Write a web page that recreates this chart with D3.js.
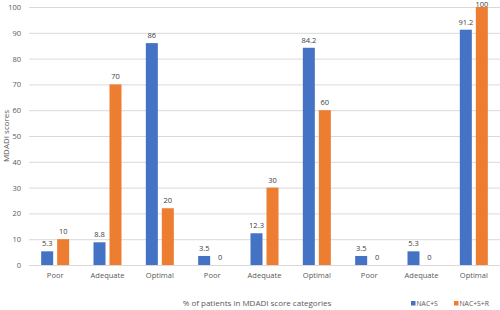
<!DOCTYPE html>
<html><head><meta charset="utf-8">
<script src="https://cdn.jsdelivr.net/npm/d3@7"></script>
<style>body{margin:0;background:#fff;} text{font-family:"Open Sans",sans-serif;fill:#595959;}</style>
</head><body>
<svg id="c" width="500" height="310"></svg>
<script>
const categories = ["Poor","Adequate","Optimal","Poor","Adequate","Optimal","Poor","Adequate","Optimal"];
const seriesNames = ["NAC+S","NAC+S+R"];
const valuesS = [5.3, 8.8, 86, 3.5, 12.3, 84.2, 3.5, 5.3, 91.2];
const valuesR = [10, 70, 22, 0, 30, 60, 0, 0, 100];
const labelsS = ["5.3","8.8","86","3.5","12.3","84.2","3.5","5.3","91.2"];
const labelsR = ["10","70","20","0","30","60","0","0","100"];
const yTicks = [0,10,20,30,40,50,60,70,80,90,100];
const colors = ["#4472C4","#ED7D31"];

const svg = d3.select("#c");
const mLeft = 29, mRight = 500, mTop = 7, mBottom = 265;
const x = d3.scaleBand().domain(d3.range(categories.length)).range([mLeft, mRight]).paddingInner(0).paddingOuter(0);
const y = d3.scaleLinear().domain([0,100]).range([mBottom, mTop]);
const xs = d3.scaleBand().domain([0,1]).range([0, 28]).paddingInner(0.25);
const off = (x.bandwidth() - 28) / 2;

// grid
const yAxis = d3.axisLeft(y).tickValues(yTicks).tickSize(-(mRight-mLeft)).tickPadding(8);
const ga = svg.append("g").attr("transform",`translate(${mLeft},0)`).call(yAxis);
ga.select(".domain").remove();
ga.selectAll(".tick line").attr("stroke","#d9d9d9").attr("stroke-width",1);
ga.selectAll(".tick text").style("font-size","7.5px").style("fill","#595959");

const series = [valuesS, valuesR];
const labels = [labelsS, labelsR];
series.forEach((vals, si) => {
  const g = svg.append("g");
  g.selectAll("rect").data(vals).join("rect")
    .attr("x",(d,i)=>x(i)+off+xs(si))
    .attr("y",d=>y(d))
    .attr("width",xs.bandwidth())
    .attr("height",d=>mBottom-y(d))
    .attr("fill",colors[si]);
  g.selectAll("text").data(vals).join("text")
    .attr("x",(d,i)=>x(i)+off+xs(si)+xs.bandwidth()/2)
    .attr("y",d=>Math.max(y(d)-5, 7))
    .attr("text-anchor","middle")
    .style("font-size","7.5px")
    .style("fill","#404040")
    .text((d,i)=>labels[si][i]);
});

// x axis
const xAxis = d3.axisBottom(x).tickFormat(i=>categories[i]).tickSize(0).tickPadding(8);
const gx = svg.append("g").attr("transform",`translate(0,${mBottom})`).call(xAxis);
gx.select(".domain").attr("stroke","#d9d9d9");
gx.selectAll(".tick text").style("font-size","7.5px").style("fill","#595959");

// titles
svg.append("text").attr("transform","translate(9,136) rotate(-90)").attr("text-anchor","middle")
  .style("font-size","8px").text("MDADI scores");
svg.append("text").attr("x",257).attr("y",306).attr("text-anchor","middle")
  .style("font-size","8px").text("% of patients in MDADI score categories");

// legend
const legX = [411, 454];
seriesNames.forEach((n,i)=>{
  svg.append("rect").attr("x",legX[i]).attr("y",301).attr("width",4.5).attr("height",4.5).attr("fill",colors[i]);
  svg.append("text").attr("x",legX[i]+5.5).attr("y",306).style("font-size","6.8px").text(n);
});
</script>
</body></html>
